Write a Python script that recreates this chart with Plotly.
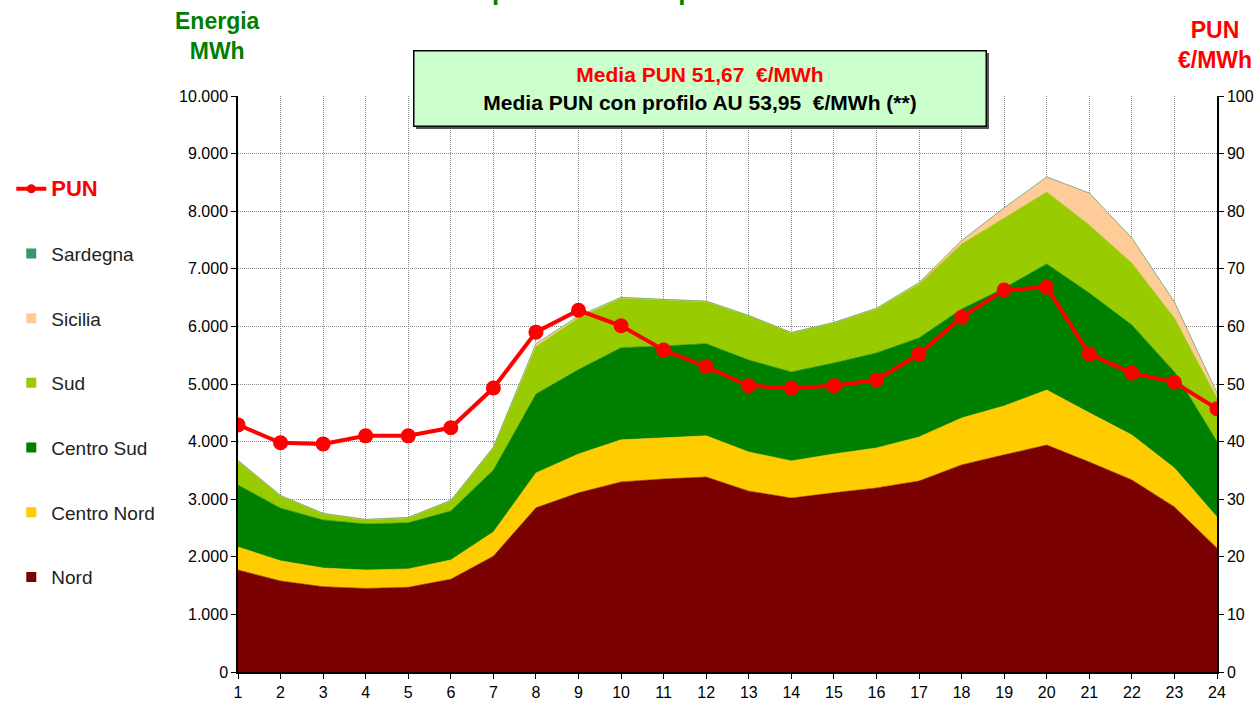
import plotly.graph_objects as go

hours = list(range(1, 25))

nord = [1770, 1580, 1480, 1450, 1470, 1610, 2010, 2850, 3110, 3300, 3350, 3385,
        3140, 3020, 3110, 3195, 3315, 3595, 3770, 3940, 3645, 3335, 2865, 2150]
centro_nord = [400, 350, 325, 320, 320, 335, 420, 605, 675, 730, 715, 715,
               680, 645, 675, 695, 765, 815, 850, 955, 855, 780, 675, 540]
centro_sud = [1075, 915, 835, 800, 800, 850, 1075, 1370, 1465, 1600, 1595, 1600,
              1595, 1545, 1580, 1650, 1720, 1890, 2045, 2190, 2080, 1910, 1670, 1310]
sud = [420, 210, 105, 70, 85, 175, 385, 825, 900, 860, 800, 730,
       765, 675, 695, 760, 935, 1130, 1215, 1250, 1180, 1075, 935, 755]
sicilia = [10, 10, 10, 10, 10, 10, 15, 50, 30, 15, 10, 10,
           10, 10, 10, 15, 25, 60, 180, 260, 555, 435, 280, 90]
sardegna = [0] * 24
pun = [42.9, 39.8, 39.6, 41.0, 41.0, 42.4, 49.3, 59.0, 62.8, 60.1, 55.9, 53.0,
       49.7, 49.3, 49.7, 50.7, 55.2, 61.6, 66.3, 66.8, 55.2, 51.9, 50.3, 45.7]

zones = [
    ("Nord", nord, "#7b0000"),
    ("Centro Nord", centro_nord, "#ffcc00"),
    ("Centro Sud", centro_sud, "#008000"),
    ("Sud", sud, "#99cc00"),
    ("Sicilia", sicilia, "#ffcc99"),
    ("Sardegna", sardegna, "#339966"),
]

FONT = "Arial, Liberation Sans, sans-serif"

fig = go.Figure()

for name, vals, col in zones:
    fig.add_trace(go.Scatter(
        x=hours, y=vals, name=name, stackgroup="zone", mode="lines",
        line=dict(color=col, width=0.6), fillcolor=col, showlegend=False,
        yaxis="y"))

fig.add_trace(go.Scatter(
    x=hours, y=pun, name="PUN", mode="lines+markers", yaxis="y2",
    line=dict(color="#ff0000", width=4), marker=dict(color="#ff0000", size=15),
    showlegend=False))

# legend entries
fig.add_trace(go.Scatter(
    x=[None], y=[None], mode="lines+markers", yaxis="y2",
    name="<b><span style='font-size:22px;color:#ff0000'>PUN</span></b>",
    line=dict(color="#ff0000", width=4), marker=dict(color="#ff0000", size=9),
    legendgroup="g0"))
for i, (name, vals, col) in enumerate(reversed(zones)):
    fig.add_trace(go.Scatter(
        x=[None], y=[None], mode="markers", name=name,
        marker=dict(symbol="square", color=col, size=10),
        legendgroup="g%d" % (i + 1)))

grid = dict(showgrid=True, gridcolor="#8c8c8c", griddash="1px,1px", gridwidth=1)

fig.update_layout(
    width=1254, height=702,
    margin=dict(l=238, r=37, t=96, b=30, autoexpand=False),
    paper_bgcolor="white", plot_bgcolor="white",
    separators=",.",
    font=dict(family=FONT, size=16, color="black"),
    showlegend=True,
    legend=dict(xref="container", yref="container", x=0.009, y=0.758,
                xanchor="left", yanchor="top", traceorder="grouped",
                tracegroupgap=37, font=dict(size=19, color="#222"),
                bgcolor="rgba(0,0,0,0)", maxheight=650),
    xaxis=dict(range=[1, 24], tickvals=hours, automargin=False,
               showline=True, linecolor="black", linewidth=1.5,
               ticks="outside", ticklen=5, tickcolor="black",
               tickfont=dict(size=16), zeroline=False, **grid),
    yaxis=dict(range=[0, 10000], dtick=1000, tickformat=",.0f", automargin=False,
               showline=True, linecolor="black", linewidth=1.5,
               ticks="outside", ticklen=5, tickcolor="black",
               tickfont=dict(size=16), zeroline=False, **grid),
    yaxis2=dict(range=[0, 100], dtick=10, overlaying="y", side="right",
                automargin=False, showgrid=False, showline=True,
                linecolor="black", linewidth=1.5, ticks="outside", ticklen=5,
                tickcolor="black", tickfont=dict(size=16), zeroline=False),
)

# shadow of the info box
fig.add_shape(type="rect", xref="paper", yref="paper",
              x0=(416 - 238) / 979, x1=(989 - 238) / 979,
              y0=(672 - 129) / 576, y1=(672 - 53) / 576,
              fillcolor="#555555", line=dict(width=0), layer="above")

fig.add_annotation(
    xref="paper", yref="paper", x=(699.5 - 238) / 979, y=(672 - 88) / 576,
    xanchor="center", yanchor="middle", showarrow=False,
    width=569, height=72, bgcolor="#ccffcc", bordercolor="black",
    borderwidth=1.5,
    text="<b><span style='color:#ff0000'>Media PUN 51,67\u00a0 €/MWh</span></b><br>"
         "<b>Media PUN con profilo AU 53,95\u00a0 €/MWh (**)</b>",
    font=dict(size=21, color="black"))

fig.add_annotation(
    xref="paper", yref="paper", x=(217 - 238) / 979, y=(672 - 36) / 576,
    xanchor="center", yanchor="middle", showarrow=False,
    text="<b>Energia<br>MWh</b>", font=dict(size=23, color="#008000"))

fig.add_annotation(
    xref="paper", yref="paper", x=(1215 - 238) / 979, y=(672 - 45) / 576,
    xanchor="center", yanchor="middle", showarrow=False,
    text="<b>PUN<br>€/MWh</b>", font=dict(size=23, color="#ff0000"))

fig.add_annotation(
    xref="paper", yref="paper", x=(448 - 238) / 979, y=(672 - 8) / 576,
    xanchor="left", yanchor="bottom", showarrow=False,
    text="<b>Acquisti nazionali per zona e PUN medio</b>",
    font=dict(size=26, color="#008000"))

fig.write_html(
    "out.html",
    config={"displayModeBar": False},
    post_script="document.body.style.margin='0';"
                "document.body.style.overflow='hidden';")
